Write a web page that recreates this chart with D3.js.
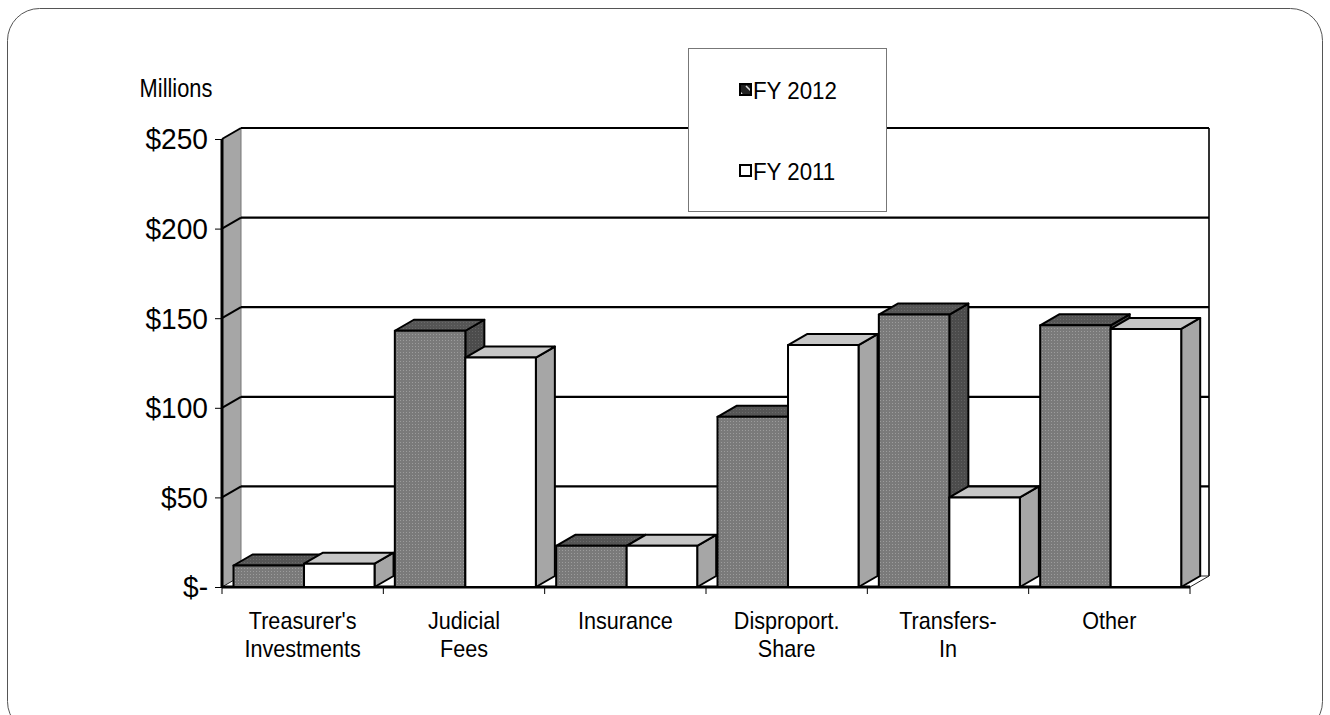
<!DOCTYPE html>
<html>
<head>
<meta charset="utf-8">
<script src="https://cdn.jsdelivr.net/npm/d3@7"></script>
<style>
  html, body { margin: 0; padding: 0; background: #fff; }
  svg { display: block; }
  text { font-family: Arial, "Liberation Sans", sans-serif; fill: #000; }
</style>
</head>
<body>
<div id="chart"></div>
<script>
// Revenue by source, in millions of dollars
const categories = [
  ["Treasurer's", "Investments"],
  ["Judicial", "Fees"],
  ["Insurance"],
  ["Disproport.", "Share"],
  ["Transfers-", "In"],
  ["Other"]
];
const seriesNames = ["FY 2012", "FY 2011"];
const fy2012 = [12, 143, 23, 95, 152, 146];
const fy2011 = [13, 128, 23, 135, 50, 144];
const yTicks = [0, 50, 100, 150, 200, 250];
const yTickLabels = ["$-", "$50", "$100", "$150", "$200", "$250"];
const unitLabel = "Millions";

const W = 1330, H = 715;
// oblique depth of the 3-D box
const DX = 19, DY = -11;

const svg = d3.select("#chart").append("svg")
  .attr("width", W).attr("height", H);

const defs = svg.append("defs");
function dotted(id, base, dot) {
  const p = defs.append("pattern").attr("id", id)
    .attr("width", 3).attr("height", 3)
    .attr("patternUnits", "userSpaceOnUse");
  p.append("rect").attr("width", 3).attr("height", 3).attr("fill", base);
  p.append("rect").attr("x", 1).attr("y", 1).attr("width", 1).attr("height", 1).attr("fill", dot);
}
dotted("dotFront", "#7a7a7a", "#9c9c9c");
dotted("dotSide", "#4c4c4c", "#626262");
dotted("dotTop", "#555555", "#6a6a6a");
const hatch = defs.append("pattern").attr("id", "hatch")
  .attr("width", 12).attr("height", 12).attr("patternUnits", "userSpaceOnUse");
hatch.append("rect").attr("width", 12).attr("height", 12).attr("fill", "#222");
hatch.append("path").attr("d", "M2,2 L10,10").attr("stroke", "#ddd").attr("stroke-width", 1.6);

// condensed text helper: narrows glyphs around an anchor x
function narrow(sel, ax, k) {
  sel.attr("transform", `translate(${ax},0) scale(${k},1) translate(${-ax},0)`);
}

// outer rounded frame
svg.append("rect")
  .attr("x", 7.5).attr("y", 8.5).attr("width", 1315).attr("height", 725)
  .attr("rx", 32).attr("ry", 32)
  .attr("fill", "#fff").attr("stroke", "#555").attr("stroke-width", 1);

const x = d3.scaleBand().domain(d3.range(categories.length)).range([222, 1190]);
const xs = d3.scaleBand().domain(seriesNames).range([11.5, x.bandwidth() - 8.8]);
const y = d3.scaleLinear().domain([0, 250]).range([587, 139]);

const x0 = x.range()[0], x1 = x.range()[1];
const yTop = y(250), yBase = y(0);

const poly = pts => "M" + pts.map(p => p.join(",")).join("L") + "Z";

// back wall
svg.append("rect")
  .attr("x", x0 + DX).attr("y", yTop + DY)
  .attr("width", x1 - x0).attr("height", yBase - yTop)
  .attr("fill", "#fff");
svg.append("line")
  .attr("x1", x1 + DX).attr("x2", x1 + DX)
  .attr("y1", yTop + DY).attr("y2", yBase + DY)
  .attr("stroke", "#333").attr("stroke-width", 2);

// left wall
svg.append("path")
  .attr("d", poly([[x0, yTop], [x0 + DX, yTop + DY], [x0 + DX, yBase + DY], [x0, yBase]]))
  .attr("fill", "#a6a6a6");
svg.append("line")
  .attr("x1", x0 + DX).attr("x2", x0 + DX).attr("y1", yTop + DY).attr("y2", yBase + DY)
  .attr("stroke", "#777").attr("stroke-width", 1);

// floor
svg.append("path")
  .attr("d", poly([[x0, yBase], [x1, yBase], [x1 + DX, yBase + DY], [x0 + DX, yBase + DY]]))
  .attr("fill", "#fff").attr("stroke", "#222").attr("stroke-width", 1);

// gridlines on back and left walls
const grid = svg.append("g");
yTicks.forEach(v => {
  if (v === 0) return;
  grid.append("line")
    .attr("x1", x0 + DX).attr("x2", x1 + DX)
    .attr("y1", y(v) + DY).attr("y2", y(v) + DY)
    .attr("stroke", "#000").attr("stroke-width", 2.2);
  grid.append("line")
    .attr("x1", x0).attr("x2", x0 + DX)
    .attr("y1", y(v)).attr("y2", y(v) + DY)
    .attr("stroke", "#000").attr("stroke-width", 2);
});

// front vertical axis edge with ticks and labels
svg.append("line")
  .attr("x1", x0).attr("x2", x0).attr("y1", yTop).attr("y2", yBase)
  .attr("stroke", "#000").attr("stroke-width", 3);
const yAxis = d3.axisLeft(y).tickValues(yTicks).tickSize(7)
  .tickFormat((d, i) => yTickLabels[i]).tickPadding(7);
const gy = svg.append("g").attr("transform", `translate(${x0},0)`).call(yAxis);
gy.select(".domain").remove();
gy.selectAll(".tick line").attr("stroke", "#000").attr("stroke-width", 1);
gy.selectAll(".tick text")
  .attr("font-size", 29).attr("font-family", "Arial, 'Liberation Sans', sans-serif")
  .attr("fill", "#000").attr("dy", "0.34em")
  .each(function () { narrow(d3.select(this), -14, 0.97); });

const unit = svg.append("text")
  .attr("x", 176).attr("y", 97)
  .attr("text-anchor", "middle").attr("font-size", 26)
  .text(unitLabel);
narrow(unit, 176, 0.84);

// front floor edge and category axis
svg.append("line")
  .attr("x1", x0).attr("x2", x1).attr("y1", yBase).attr("y2", yBase)
  .attr("stroke", "#000").attr("stroke-width", 3);
const xTicks = svg.append("g");
d3.range(categories.length + 1).forEach(i => {
  const xx = i < categories.length ? x(i) : x1;
  xTicks.append("line")
    .attr("x1", xx).attr("x2", xx).attr("y1", yBase).attr("y2", yBase + 7)
    .attr("stroke", "#000").attr("stroke-width", 1);
});
categories.forEach((lines, i) => {
  const cx = x(i) + x.bandwidth() / 2;
  const t = svg.append("text")
    .attr("text-anchor", "middle").attr("font-size", 24);
  lines.forEach((ln, j) => {
    t.append("tspan")
      .attr("x", cx)
      .attr("y", 629 + j * 28)
      .text(ln);
  });
  narrow(t, cx, 0.9);
});

// 3-D bars
const styles = {
  "FY 2012": { front: "url(#dotFront)", top: "url(#dotTop)", side: "url(#dotSide)" },
  "FY 2011": { front: "#ffffff", top: "#c6c6c6", side: "#a6a6a6" }
};
const bars = [];
categories.forEach((c, i) => {
  bars.push({ i, s: "FY 2012", v: fy2012[i] });
  bars.push({ i, s: "FY 2011", v: fy2011[i] });
});
const gb = svg.append("g");
bars.forEach(b => {
  const l = x(b.i) + xs(b.s), r = l + xs.bandwidth();
  const t = y(b.v), bt = yBase;
  const st = styles[b.s];
  const g = gb.append("g").attr("stroke", "#000").attr("stroke-width", 2).attr("stroke-linejoin", "round");
  g.append("path").attr("d", poly([[r, t], [r + DX, t + DY], [r + DX, bt + DY], [r, bt]])).attr("fill", st.side);
  g.append("path").attr("d", poly([[l, t], [l + DX, t + DY], [r + DX, t + DY], [r, t]])).attr("fill", st.top);
  g.append("rect").attr("x", l).attr("y", t).attr("width", r - l).attr("height", bt - t).attr("fill", st.front);
});

// legend
const lg = svg.append("g");
lg.append("rect").attr("x", 688.5).attr("y", 48.5).attr("width", 198).attr("height", 163)
  .attr("fill", "#fff").attr("stroke", "#777").attr("stroke-width", 1);
seriesNames.forEach((s, k) => {
  const cy = 90 + k * 81;
  lg.append("rect").attr("x", 740).attr("y", cy - 6).attr("width", 11).attr("height", 11)
    .attr("fill", k === 0 ? "url(#hatch)" : "#fff")
    .attr("stroke", "#000").attr("stroke-width", 2);
  const lt = lg.append("text").attr("x", 753).attr("y", cy + 9).attr("font-size", 24).text(s);
  narrow(lt, 753, 0.93);
});
</script>
</body>
</html>
